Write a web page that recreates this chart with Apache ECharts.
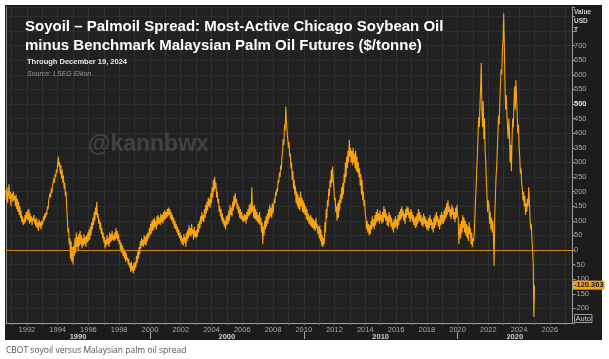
<!DOCTYPE html>
<html><head><meta charset="utf-8">
<script src="https://cdn.jsdelivr.net/npm/echarts@6/dist/echarts.min.js"></script>
<style>
html,body{margin:0;padding:0;background:#fff;}
#wrap{position:relative;width:609px;height:359px;}
#panel{position:absolute;left:5px;top:5px;width:597px;height:335px;background:#1c1c1c;}
#c{position:absolute;left:0;top:0;width:609px;height:359px;}
</style>
</head><body>
<div id="wrap"><div id="panel"></div><div id="c"></div></div>
<script>
// semi-monthly observations starting Aug 1990
const startYear = 1990.625;
const obsPerYear = 24;

const spread1990s = [
  205,170,215,160,190,225,175,200,150,185,
  195,165,200,170,185,150,190,140,175,130,165,120,150,110,135,95,115,85,105,90,120,95,130,105,
  135,100,140,90,125,95,115,85,110,100,120,90,105,80,110,75,95,65,105,80,95,70,100,85,
  95,115,100,125,110,130,120,150,140,170,165,195,180,210,195,220,215,245,230,260,250,275,265,300,
  320,285,300,260,290,245,275,230,255,210,230,185,200,150,110,60,75,20,40,-30,30,-40,10,-50,
  15,-20,40,-10,60,10,45,-5,55,15,65,20,50,5,40,15,55,20,45,10,50,25,60,30,
  70,35,80,50,95,70,110,85,130,100,145,120,165,110,125,90,105,70,95,55,75,40,60,25,
  45,5,35,15,50,20,40,10,60,25,55,30,65,35,50,30,60,35,75,40,65,30,55,20,
  35,-5,25,-10,15,-20,5,-30,0,-40,-10,-35,-25,-50,-30,-60,-45,-75,-40,-70,-55,-80,-45,-70,
  -40,-60,-20,-45,-5,-30,10,-15,30,5,40,15,35,10,50,20,45,15,55,30,60,40,75,50
];
const spread2000s = [
  90,55,100,65,105,70,110,80,100,70,115,85,120,90,110,85,125,95,120,90,130,100,135,105,
  130,110,140,115,145,120,140,105,130,100,120,90,110,75,100,70,90,60,80,50,70,40,60,30,
  50,20,40,15,55,25,45,10,60,30,70,40,85,50,75,45,90,55,70,35,80,45,65,40,
  70,45,90,60,100,75,115,90,130,100,120,95,140,110,155,125,165,135,180,150,175,145,195,160,
  215,180,240,200,250,210,230,180,200,160,175,130,150,115,140,100,125,90,110,80,100,70,115,85,
  120,90,135,100,155,120,145,115,165,135,185,150,195,160,175,140,160,125,150,110,140,105,130,100,
  115,95,125,100,120,90,130,105,140,115,155,120,160,125,215,130,150,110,155,105,140,100,130,95,
  120,90,130,85,110,60,95,20,80,50,100,70,115,80,125,90,140,105,155,115,145,110,160,125,
  150,175,160,200,185,210,200,240,230,265,250,290,275,320,340,380,360,430,410,490,440,400,380,350,
  370,320,330,280,300,240,270,210,240,190,220,160,200,150,190,140,180,135,200,150,180,130,170,125
];
const spread2010s = [
  160,120,150,105,140,100,125,90,115,85,120,80,110,75,105,70,100,65,110,75,90,55,80,40,
  85,30,70,15,50,10,40,20,95,60,140,110,170,150,210,185,240,215,275,230,285,240,215,170,
  180,130,150,100,160,110,170,135,190,160,215,175,230,190,260,230,300,250,320,280,340,300,377,320,
  350,300,340,290,350,300,330,280,340,270,320,265,300,250,280,220,260,190,240,170,200,150,170,120,
  110,70,100,60,90,50,85,55,100,70,115,80,105,70,120,85,130,95,140,100,125,90,135,100,
  120,90,130,95,150,110,140,100,125,85,115,80,130,95,120,80,110,70,95,60,105,75,115,80,
  105,70,120,85,130,100,140,105,150,115,135,100,125,90,140,110,150,120,145,110,130,95,140,105,
  130,95,120,85,110,75,115,80,125,90,140,100,130,95,120,85,110,80,125,90,115,80,105,70,
  100,65,110,75,120,85,105,70,95,60,110,75,120,85,130,95,115,80,105,70,120,85,130,90,
  120,90,135,100,145,110,160,120,170,130,150,115,140,105,155,120,145,105,130,95,145,110,155,120
];
const spread2020s = [
  110,20,60,90,40,100,60,120,75,110,60,100,50,90,40,80,30,95,55,75,20,60,10,40,
  30,60,110,170,220,280,330,400,455,420,500,560,640,480,420,510,380,450,340,300,230,180,130,170,
  150,90,130,70,110,60,100,45,-55,120,180,250,280,340,400,460,430,510,570,620,600,685,720,810,
  700,560,480,530,460,420,380,450,400,300,360,270,380,450,420,500,560,480,582,520,470,400,430,350,
  320,260,280,230,210,170,200,150,185,120,160,130,175,150,215,170,110,70,90,40,0,-50,-229,-120.363
];

const yearTickLabels = [1992,1994,1996,1998,2000,2002,2004,2006,2008,2010,2012,2014,2016,2018,2020,2022,2024,2026];
const decadeStarts = [1990,2000,2010,2020];
const xMin = 1990.64, xMax = 2027.44;
const yMin = -250, yMax = 832;

const values = spread1990s.concat(spread2000s, spread2010s, spread2020s);
const seriesData = values.map((v, i) => [startYear + i / obsPerYear, v]);
const lastValue = values[values.length - 1];

const gridYears = [];
for (let y = Math.ceil(xMin); y <= Math.floor(xMax); y++) gridYears.push(y);
const decadeMids = decadeStarts.map(d => (Math.max(d, xMin) + Math.min(d + 10, xMax)) / 2);
const decadeBounds = decadeStarts.filter(d => d > xMin);

const chart = echarts.init(document.getElementById('c'), null, {renderer: 'canvas'});
const fontAx = 'Liberation Sans, Arial, sans-serif';
chart.setOption({
  backgroundColor: 'transparent',
  animation: false,
  title: [
    {text: 'Soyoil – Palmoil Spread: Most-Active Chicago Soybean Oil\nminus Benchmark Malaysian Palm Oil Futures ($/tonne)',
     left: 25, top: 17, padding: 0,
     textStyle: {color: '#ffffff', fontSize: 15, fontWeight: 'bold', fontFamily: fontAx, lineHeight: 19}},
    {text: 'Through December 19, 2024', left: 27, top: 58, padding: 0,
     textStyle: {color: '#e8e8e8', fontSize: 7.5, fontWeight: 'bold', fontFamily: fontAx}},
    {text: 'Source: LSEG Eikon', left: 27, top: 71, padding: 0,
     textStyle: {color: '#9a9a9a', fontSize: 7, fontStyle: 'italic', fontWeight: 'normal', fontFamily: fontAx}}
  ],
  grid: {left: 6, right: 37, top: 7, bottom: 36, show: true, backgroundColor: '#212121', borderWidth: 0},
  xAxis: [
    {type: 'value', min: xMin, max: xMax, position: 'bottom',
     axisLine: {show: true, onZero: false, lineStyle: {color: '#a0a0a0', width: 1}},
     axisTick: {show: true, customValues: gridYears, length: 2, lineStyle: {color: '#777'}},
     axisLabel: {customValues: yearTickLabels, color: '#a8a8a8', fontSize: 7.5, margin: 3, fontFamily: fontAx,
                 formatter: v => String(Math.round(v))},
     splitLine: {show: true, lineStyle: {color: '#313131', width: 1}}},
    {type: 'value', min: xMin, max: xMax, position: 'bottom', offset: 9,
     axisLine: {show: false, onZero: false},
     axisTick: {show: true, customValues: decadeBounds, length: 7, lineStyle: {color: '#aaa'}},
     axisLabel: {customValues: decadeMids, color: '#cfcfcf', fontSize: 7.5, fontWeight: 'bold', margin: 1, fontFamily: fontAx,
                 formatter: v => String(Math.floor(v / 10) * 10)},
     splitLine: {show: false}}
  ],
  yAxis: [
    {type: 'value', position: 'right', min: yMin, max: yMax, interval: 50,
     axisLine: {show: true, onZero: false, lineStyle: {color: '#a0a0a0'}},
     axisTick: {show: true, length: 3, lineStyle: {color: '#999'}},
     axisLabel: {color: '#a8a8a8', fontSize: 7.5, margin: 2, fontFamily: fontAx,
                 formatter: v => (v < -200 || v > 700) ? '' : (v === 500 ? '{b|500}' : String(v)),
                 rich: {b: {color: '#e0e0e0', fontWeight: 'bold', fontSize: 7.5, fontFamily: fontAx}}},
     splitLine: {show: true, lineStyle: {color: '#2d2d2d'}}},
    {type: 'value', position: 'left', min: yMin, max: yMax,
     axisLine: {show: true, onZero: false, lineStyle: {color: '#8a8a8a'}},
     axisTick: {show: false}, axisLabel: {show: false}, splitLine: {show: false}}
  ],
  graphic: [
    {type: 'text', left: 88, top: 133, z: 1, silent: true,
     style: {text: '@kannbwx', fill: 'rgba(110,110,110,0.42)', font: 'bold 23px Liberation Sans, Arial, sans-serif'}},
    {type: 'text', left: 574, top: 8, silent: true,
     style: {text: 'Value\nUSD\nT', fill: '#cfcfcf', font: 'bold 6.5px Liberation Sans, Arial, sans-serif', lineHeight: 9}},
    {type: 'text', left: 574, top: 314, silent: true,
     style: {text: 'Auto', fill: '#d0d0d0', font: '7.5px Liberation Sans, Arial, sans-serif',
             borderColor: '#a0a0a0', borderWidth: 1, padding: [0, 1, 0, 1]}},
    {type: 'text', left: 6, top: 346, silent: true,
     style: {text: 'CBOT soyoil versus Malaysian palm oil spread', fill: '#555', font: '8.5px Open Sans, Liberation Sans, sans-serif'}}
  ],
  series: [{
    type: 'line', data: seriesData, xAxisIndex: 0, yAxisIndex: 0,
    showSymbol: false, symbol: 'none', sampling: null,
    lineStyle: {color: '#f6a313', width: 1.1}, z: 3,
    markLine: {
      silent: true, symbol: 'none', animation: false,
      data: [
        {yAxis: 0, lineStyle: {color: '#d08a12', width: 1, type: 'solid'}, label: {show: false}},
        {yAxis: lastValue, lineStyle: {color: 'rgba(0,0,0,0)', width: 0}, label: {show: true, position: 'end', distance: 1,
          formatter: lastValue.toFixed(3), color: '#1a1a1a', backgroundColor: '#f2a31f', fontSize: 7.5,
          fontWeight: 'bold', padding: [1, 1, 0, 1], fontFamily: fontAx, opacity: 1}}
      ]
    }
  }]
});
</script>
</body></html>
